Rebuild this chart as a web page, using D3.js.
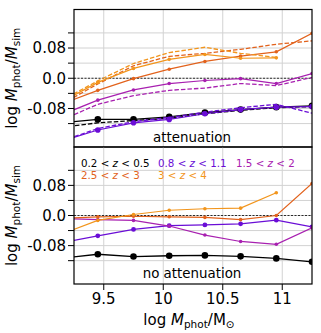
<!DOCTYPE html>
<html><head><meta charset="utf-8">
<script src="https://cdn.jsdelivr.net/npm/d3@7"></script>
<style>body{margin:0;background:#fff}svg{display:block}text{font-family:"DejaVu Sans",sans-serif}</style>
</head><body><svg id="c" width="321" height="333"></svg>
<script>
// ---- data ----
const massBins = [9.15, 9.45, 9.75, 10.05, 10.35, 10.65, 10.95, 11.25];
const groups = ["0.2 < z < 0.5", "0.8 < z < 1.1", "1.5 < z < 2", "2.5 < z < 3", "3 < z < 4"];
const colors = ["#000000", "#6a0dd6", "#a820b0", "#e2621c", "#f2951c"];
// attenuation panel, solid lines (with markers)
const attSolid0 = [-0.118, -0.109, -0.109, -0.102, -0.091, -0.083, -0.0765, -0.073];
const attSolid1 = [-0.166, -0.137, -0.118, -0.109, -0.094, -0.083, -0.0765, -0.075];
const attSolid2 = [-0.096, -0.058, -0.031, -0.014, -0.006, -0.001, -0.014, 0.0125];
const attSolid3 = [-0.068, -0.032, -0.001, 0.024, 0.0445, 0.0587, 0.070, 0.119];
const attSolid4 = [-0.062, -0.011, 0.026, 0.050, 0.063, 0.053, 0.054, null];
// attenuation panel, dashed lines
const attDash0 = [-0.130, -0.118, -0.112, -0.106, -0.094, -0.085, -0.078, -0.075];
const attDash1 = [-0.166, -0.133, -0.115, -0.104, -0.090, -0.078, -0.069, -0.0925];
const attDash2 = [-0.110, -0.069, -0.046, -0.032, -0.026, -0.014, -0.0195, 0.002];
const attDash3 = [-0.068, -0.015, 0.033, 0.058, 0.066, 0.0765, 0.090, 0.099];
const attDash4 = [-0.058, -0.007, 0.039, 0.068, 0.082, 0.066, 0.055, null];
// no-attenuation panel
const noAtt0 = [-0.1135, -0.103, -0.109, -0.107, -0.106, -0.1085, -0.114, -0.123];
const noAtt1 = [-0.072, -0.054, -0.037, -0.027, -0.025, -0.022, -0.0125, -0.030];
const noAtt2 = [-0.008, -0.011, -0.013, -0.028, -0.052, -0.069, -0.0765, -0.033];
const noAtt3 = [-0.0075, -0.0035, -0.002, -0.0035, -0.005, -0.011, 0.0, 0.085];
const noAtt4 = [-0.049, -0.013, 0.0027, 0.014, 0.018, 0.0195, 0.0605, null];
const xTicks = [9.5, 10, 10.5, 11];
const xTickLabels = ["9.5", "10", "10.5", "11"];
const yMajor = [-0.08, 0, 0.08];
const yMajorLabels = ["-0.08", "0.0", "0.08"];
const yMinor = [-0.12, -0.04, 0.04, 0.12];

// ---- layout ----
const svg = d3.select("#c");
const L = 74, R = 312;
const x = d3.scaleLinear().domain([9.25, 11.25]).range([L, R]);
const panels = [
  {top: 9.5, bot: 147, solids: [attSolid0, attSolid1, attSolid2, attSolid3, attSolid4],
   dashes: [attDash0, attDash1, attDash2, attDash3, attDash4], label: "attenuation", r: [3.3, 2.8, 1.8, 1.8, 1.8]},
  {top: 147, bot: 284, solids: [noAtt0, noAtt1, noAtt2, noAtt3, noAtt4],
   dashes: null, label: "no attenuation", r: [3.3, 2.4, 1.8, 1.8, 1.8]}
];

panels.forEach((p, pi) => {
  const y = d3.scaleLinear().domain([-0.182, 0.182]).range([p.bot, p.top]);
  const g = svg.append("g");
  const cid = "clip" + pi;
  svg.append("clipPath").attr("id", cid).append("rect")
    .attr("x", L).attr("y", p.top).attr("width", R - L).attr("height", p.bot - p.top);
  // grid
  const grid = g.append("g").attr("stroke", "#d2d2d2").attr("stroke-width", 1);
  yMajor.concat(yMinor).forEach(v => grid.append("line").attr("x1", L).attr("x2", R)
    .attr("y1", y(v)).attr("y2", y(v)));
  xTicks.forEach(v => grid.append("line").attr("x1", x(v)).attr("x2", x(v))
    .attr("y1", p.top).attr("y2", p.bot));
  // zero line
  g.append("line").attr("x1", L).attr("x2", R).attr("y1", y(0)).attr("y2", y(0))
    .attr("stroke", "#000").attr("stroke-width", 0.8).attr("stroke-dasharray", "2,1.5");
  const plot = g.append("g").attr("clip-path", `url(#${cid})`);
  const line = d3.line().defined(d => d[1] !== null).x(d => x(d[0])).y(d => y(d[1]));
  const series = (arr) => massBins.map((m, i) => [m, arr[i]]);
  for (let k = 0; k < 5; k++) {
    if (p.dashes) {
      plot.append("path").attr("d", line(series(p.dashes[k]))).attr("fill", "none")
        .attr("stroke", colors[k]).attr("stroke-width", 1.3).attr("stroke-dasharray", "4.5,2");
    }
    plot.append("path").attr("d", line(series(p.solids[k]))).attr("fill", "none")
      .attr("stroke", colors[k]).attr("stroke-width", k === 0 ? 1.3 : 1.2);
    plot.selectAll(null).data(series(p.solids[k]).filter(d => d[1] !== null)).enter()
      .append("circle").attr("cx", d => x(d[0])).attr("cy", d => y(d[1]))
      .attr("r", p.r[k]).attr("fill", colors[k]);
  }
  // frame
  g.append("rect").attr("x", L).attr("y", p.top).attr("width", R - L).attr("height", p.bot - p.top)
    .attr("fill", "none").attr("stroke", "#000").attr("stroke-width", 1.2);
  // y ticks
  yMajor.concat(yMinor).forEach(v => g.append("line").attr("x1", L - 6).attr("x2", L)
    .attr("y1", y(v)).attr("y2", y(v)).attr("stroke", "#000").attr("stroke-width", 1));
  yMajor.forEach((v, i) => g.append("text").attr("x", L - 8).attr("y", y(v) + 5.3)
    .attr("text-anchor", "end").attr("font-size", 15).text(yMajorLabels[i]));
  // y label
  const cy = (p.top + p.bot) / 2;
  const yl = g.append("text").attr("transform", `translate(17,${cy}) rotate(-90)`)
    .attr("text-anchor", "middle").attr("font-size", 15);
  yl.append("tspan").text("log ");
  yl.append("tspan").attr("font-style", "italic").text("M");
  yl.append("tspan").attr("font-size", 10.5).attr("dy", 3).text("phot");
  yl.append("tspan").attr("dy", -3).text("/");
  yl.append("tspan").attr("font-style", "italic").text("M");
  yl.append("tspan").attr("font-size", 10.5).attr("dy", 3).text("sim");
  // panel label
  g.append("text").attr("x", 192).attr("y", pi === 0 ? 141.5 : 278.3)
    .attr("text-anchor", "middle").attr("font-size", 13.4).text(p.label);
});

// x axis (bottom)
xTicks.forEach((v, i) => {
  svg.append("line").attr("x1", x(v)).attr("x2", x(v)).attr("y1", 284).attr("y2", 290)
    .attr("stroke", "#000");
  svg.append("text").attr("x", x(v)).attr("y", 304).attr("text-anchor", "middle")
    .attr("font-size", 15).text(xTickLabels[i]);
});
const xl = svg.append("text").attr("x", 189).attr("y", 325).attr("text-anchor", "middle").attr("font-size", 15);
xl.append("tspan").text("log ");
xl.append("tspan").attr("font-style", "italic").text("M");
xl.append("tspan").attr("font-size", 10.5).attr("dy", 3).text("phot");
xl.append("tspan").attr("dy", -3).text("/M");
xl.append("tspan").attr("font-size", 10.5).attr("dy", 3).text("\u2299");

// legend
const legPos = [[81, 166.7], [158, 166.7], [236, 166.7], [81, 179], [158, 179]];
groups.forEach((gname, k) => {
  const parts = gname.split("z");
  const t = svg.append("text").attr("x", legPos[k][0]).attr("y", legPos[k][1])
    .attr("font-size", 10.3).attr("fill", colors[k]);
  t.append("tspan").text(parts[0]);
  t.append("tspan").attr("font-style", "italic").text("z");
  t.append("tspan").text(parts[1]);
});
</script></body></html>
